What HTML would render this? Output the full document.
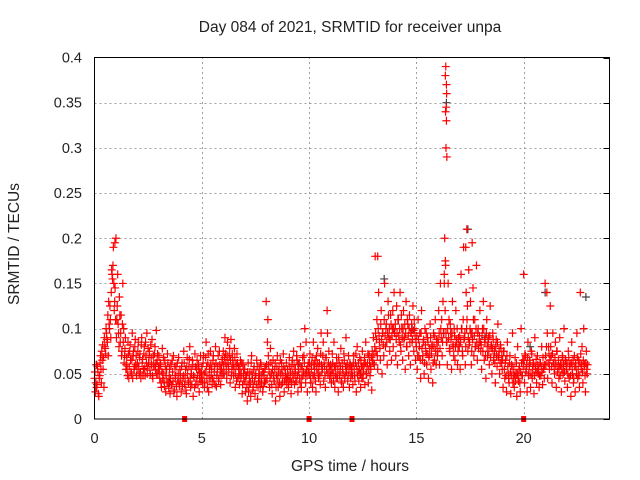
<!DOCTYPE html>
<html><head><meta charset="utf-8"><style>
body{margin:0;background:#fff;width:640px;height:480px;overflow:hidden}
svg{display:block;font-family:"Liberation Sans",sans-serif}
</style></head><body>
<svg id="chart" width="640" height="480" xmlns="http://www.w3.org/2000/svg">
<rect width="640" height="480" fill="#fff"/>
<text x="350" y="32" font-size="15.5" text-anchor="middle" fill="#222">Day 084 of 2021, SRMTID for receiver unpa</text>
<text x="350" y="471" font-size="15.5" text-anchor="middle" fill="#222">GPS time / hours</text>
<text transform="translate(19,244) rotate(-90)" font-size="15.5" text-anchor="middle" fill="#222">SRMTID / TECUs</text>
<g id="grid"></g><g id="ticks"></g><g id="marks"></g>
<rect x="94.5" y="57.5" width="515" height="361.5" fill="none" stroke="#000" stroke-width="1"/>
</svg>
<script>
const xTicks=[0,5,10,15,20];
const yTicks=[0,0.05,0.1,0.15,0.2,0.25,0.3,0.35,0.4];
const yTickLabels=["0","0.05","0.1","0.15","0.2","0.25","0.3","0.35","0.4"];
const sampleStep=0.04;
const secondStart=0.02;
const redMilli=[
45,30,60,38,52,25,48,70,40,65,55,35,80,72,95,85,70,105,125,90,165,155,190,120,145,
200,110,160,95,135,85,115,75,150,100,70,90,60,55,85,45,75,65,50,95,70,55,80,60,48,
62,85,50,72,45,90,66,55,80,48,70,95,58,62,75,50,68,88,45,60,72,55,98,65,50,
70,45,60,35,78,50,42,65,30,55,72,40,48,28,60,38,52,70,32,45,58,25,42,68,36,
50,30,62,45,75,38,55,28,68,42,58,80,35,50,65,25,46,72,38,55,48,60,30,52,42,
58,40,70,35,52,85,45,62,30,55,75,48,38,65,42,58,80,36,52,70,45,60,38,55,66,
75,50,90,62,45,85,58,70,40,88,55,65,48,78,35,60,72,45,55,38,65,50,28,60,42,
55,30,48,20,62,38,52,25,70,45,35,58,28,50,65,22,42,55,35,60,48,30,52,40,58,
130,45,110,60,35,78,50,28,65,42,55,20,48,70,35,58,25,50,62,40,72,30,55,45,38,
55,35,68,45,28,60,50,75,38,55,42,65,30,52,45,80,35,58,48,70,100,40,55,30,62,
50,72,40,60,35,85,48,65,30,55,78,45,62,38,95,52,70,42,58,35,68,120,50,75,45,
60,40,72,50,85,35,58,68,45,30,62,52,78,40,55,35,65,48,90,58,42,70,35,60,50,
55,38,70,48,62,30,80,52,42,68,35,58,75,45,60,38,85,50,62,40,70,48,55,32,65,
90,60,180,75,110,55,140,85,65,120,50,95,70,150,80,105,60,130,90,75,115,65,100,80,140,
95,70,125,60,110,85,140,75,100,65,120,90,55,130,80,105,70,115,60,95,85,125,75,100,65,
80,55,110,70,95,45,120,65,85,50,100,75,60,90,45,70,105,55,80,40,95,65,110,60,85,
75,120,60,150,90,70,130,95,200,170,85,60,150,110,75,95,55,130,80,100,65,120,85,60,90,
80,55,160,100,70,190,90,60,140,110,75,165,85,130,60,95,145,70,110,80,170,65,100,85,120,
75,55,100,130,65,85,45,110,70,90,60,125,80,50,95,65,75,40,88,58,105,70,50,82,62,
55,35,75,45,65,30,85,50,40,70,28,60,95,45,35,68,50,25,80,42,58,30,100,48,65,
160,40,70,55,30,85,50,65,35,75,45,60,28,90,55,40,70,50,35,62,48,80,38,55,45,
150,60,140,45,80,55,125,70,40,95,62,50,85,35,75,55,45,90,60,30,70,50,100,42,65,
55,35,75,45,60,25,85,50,40,70,30,58,95,45,65,35,140,55,80,40,100,60,30,75,50];
const redMilli2=[
52,40,35,58,28,45,62,55,75,82,68,90,78,100,88,115,130,100,110,140,160,170,150,130,110,
90,125,105,80,115,95,70,105,85,62,78,55,68,48,72,58,82,52,65,45,75,58,88,70,55,
75,58,68,52,82,62,48,72,56,85,62,50,78,68,54,82,60,48,70,58,80,62,50,72,58,
55,62,40,52,45,68,36,58,48,40,62,34,55,45,38,65,42,30,58,48,36,62,50,40,55,
42,58,36,48,62,45,32,58,50,40,66,45,55,38,60,48,35,58,42,65,38,55,45,70,50,
45,62,50,40,68,58,35,72,48,42,60,55,45,70,52,38,62,48,58,42,75,55,48,62,50,
60,68,72,55,70,62,52,78,65,48,72,60,55,68,50,42,62,58,48,55,45,62,38,50,55,
42,48,35,52,30,45,40,62,50,32,55,42,48,38,58,35,50,45,62,40,52,36,48,55,42,
60,85,70,52,45,62,38,55,48,42,62,35,58,45,52,40,65,38,55,48,58,42,50,62,45,
48,42,58,52,40,65,45,60,50,42,70,48,55,62,40,58,45,68,52,62,50,85,48,58,52,
62,45,55,68,48,60,55,42,70,62,50,58,48,72,60,55,85,62,48,68,55,95,62,58,52,
48,55,62,42,58,50,45,62,55,68,48,58,42,62,50,72,45,58,52,60,48,55,62,45,58,
48,62,55,42,72,58,48,62,55,50,65,45,58,52,68,62,50,58,72,55,62,58,68,75,62,
72,80,95,88,70,100,92,78,105,88,95,82,110,92,100,85,95,115,100,88,105,92,120,100,95,
105,88,95,110,92,100,82,115,90,100,88,105,95,80,110,92,100,85,95,105,88,98,110,92,85,
92,70,88,80,65,95,78,70,88,62,82,95,72,85,68,78,90,72,82,62,80,92,75,88,70,
85,95,78,100,110,85,95,160,120,95,85,100,90,78,105,88,95,82,70,92,80,88,100,75,82,
92,85,100,75,110,88,95,80,100,125,90,82,100,95,75,88,110,92,80,100,85,95,78,92,85,
82,92,75,100,88,70,95,80,85,75,92,68,82,78,88,72,62,80,70,85,68,75,62,78,70,
65,75,55,62,48,70,58,45,62,52,48,58,40,55,48,42,62,50,45,55,40,52,62,48,58,
65,72,52,60,68,48,58,62,50,72,55,62,48,58,66,52,60,55,48,62,58,52,68,55,60,
70,80,95,62,72,65,80,58,72,62,55,68,60,75,52,65,58,48,62,55,68,60,52,65,58,
62,50,68,58,48,62,55,65,45,58,62,50,68,55,48,62,72,60,52,65,58,48,62,55,60];
const spikeTimes=[16.35,16.37,16.40,16.36,16.40,16.38,16.42,16.39,16.41,16.30,16.35,17.35,17.30,17.60,0.95,13.2];
const spikeValues=[0.38,0.39,0.37,0.34,0.33,0.30,0.29,0.345,0.36,0.15,0.175,0.21,0.19,0.195,0.195,0.18];
const grayTimes=[16.40,17.40,0.10,13.50,21.00,22.90,20.30,9.50,14.80,18.20,12.40,3.50];
const grayValues=[0.35,0.21,0.06,0.155,0.14,0.135,0.08,0.06,0.10,0.09,0.05,0.04];
const zeroTimes=[4.2,10.0,12.0,20.0];
const NS="http://www.w3.org/2000/svg";
const X0=94.5,X1=609.5,Y0=419,Y1=57.5,XMAX=24,YMAX=0.4;
const xs=t=>X0+t/XMAX*(X1-X0);
const ys=v=>Y0-v/YMAX*(Y0-Y1);
const grid=document.getElementById('grid'),ticks=document.getElementById('ticks'),marks=document.getElementById('marks');
function el(tag,attrs,parent){const e=document.createElementNS(NS,tag);for(const k in attrs)e.setAttribute(k,attrs[k]);parent.appendChild(e);return e;}
xTicks.forEach(t=>{const x=Math.round(xs(t))+0.5;
 if(t>0){const g=el('line',{x1:x,x2:x,y1:Y0,y2:Y1,stroke:'#a0a0a0','stroke-dasharray':'2,3'},grid);
 
 }
 const tx=el('text',{x:xs(t),y:443,'font-size':14.5,'text-anchor':'middle',fill:'#222'},ticks);tx.textContent=t;
 
 });
yTicks.forEach((v,i)=>{const y=Math.round(ys(v))+0.5;
 if(v>0&&v<YMAX){const g=el('line',{x1:X0,x2:X1,y1:y,y2:y,stroke:'#a0a0a0','stroke-dasharray':'2,3'},grid);
 
 }
 el('line',{x1:X1-6,x2:X1,y1:y,y2:y,stroke:'#000'},ticks);
 const tx=el('text',{x:82,y:ys(v)+5,'font-size':14.5,'text-anchor':'end',fill:'#222'},ticks);tx.textContent=yTickLabels[i];
 
 });
function plus(t,v,c,name){const x=xs(t),y=ys(v);
 const p=el('path',{d:`M${x-4},${y}h8M${x},${y-4}v8`,stroke:c,'stroke-width':1.2,fill:'none'},marks);
 
 }
grayTimes.forEach((t,i)=>plus(t,grayValues[i],'#404040','gray-point'));
redMilli.forEach((m,i)=>plus(i*sampleStep,m/1000,'#ff0000','red-point'));
redMilli2.forEach((m,i)=>plus(secondStart+i*sampleStep,m/1000,'#ff0000','red-point'));
spikeTimes.forEach((t,i)=>plus(t,spikeValues[i],'#ff0000','spike-point'));
zeroTimes.forEach(t=>{const r=el('rect',{x:xs(t)-2.5,y:Y0-3,width:5,height:6,fill:'#ff0000'},marks);
 
 });
</script>
</body></html>
